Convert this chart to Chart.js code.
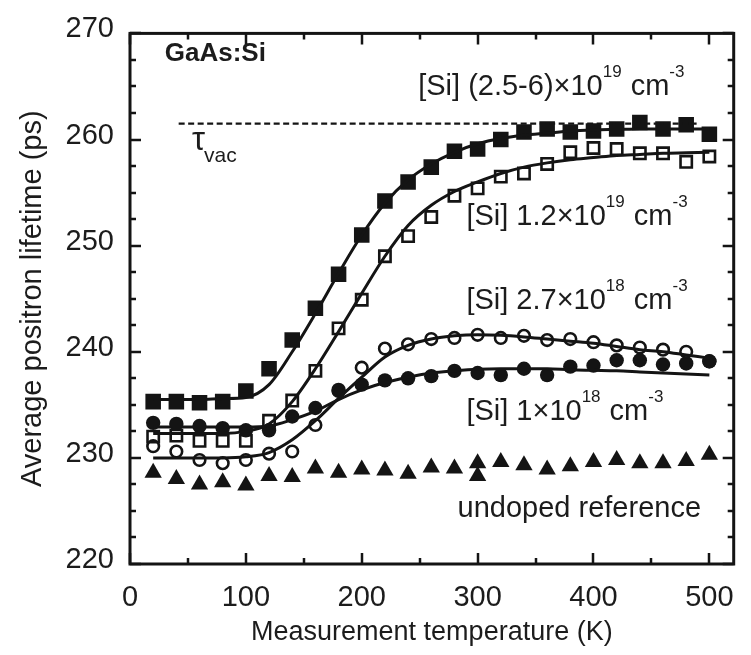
<!DOCTYPE html>
<html><head><meta charset="utf-8">
<script src="https://cdn.jsdelivr.net/npm/chart.js@4.4.0/dist/chart.umd.min.js"></script>
<style>html,body{margin:0;padding:0;background:#fff;}#wrap{width:751px;height:655px;}</style>
</head><body><div id="wrap"><canvas id="c" width="751" height="655"></canvas></div>
<script>
// ---------- data ----------
const temperatures = [20,40,60,80,100,120,140,160,180,200,220,240,260,280,300,320,340,360,380,400,420,440,460,480,500];
const siHigh   = [235.3,235.3,235.2,235.3,236.3,238.4,241.1,244.1,247.3,251.0,254.2,256.0,257.4,258.9,259.1,260.0,260.7,261.0,260.7,260.8,261.0,261.6,261.0,261.4,260.5];
const si12e19  = [232.0,232.1,231.6,231.6,231.6,233.5,235.4,238.2,242.2,244.9,249.0,250.9,252.7,254.7,255.4,256.5,256.8,257.7,258.8,259.2,259.1,258.7,258.7,257.9,258.4];
const si27e18  = [231.1,230.6,229.8,229.5,229.8,230.4,230.6,233.1,236.3,238.5,240.3,240.7,241.2,241.3,241.6,241.3,241.5,241.1,241.2,240.9,240.6,240.4,240.2,240.0,239.1];
const si1e18   = [233.3,233.2,233.0,232.8,232.6,232.6,233.9,234.7,236.4,236.9,237.3,237.5,237.7,238.2,238.0,237.8,238.4,237.8,238.6,238.7,239.2,239.2,238.8,238.9,239.1];
const undopedTemps = [20,40,60,80,100,120,140,160,180,200,220,240,260,280,300,300,320,340,360,380,400,420,440,460,480,500];
const undoped  = [228.6,228.0,227.5,227.7,227.4,228.3,228.2,229.0,228.6,228.9,228.8,228.5,229.1,229.0,229.5,228.3,229.6,229.3,228.9,229.2,229.6,229.8,229.5,229.5,229.7,230.3];
// fitted curves at the same temperatures
const fitHigh  = [235.5,235.5,235.5,235.6,235.7,236.9,240.0,243.6,247.4,251.0,254.0,256.2,257.7,258.8,259.6,260.1,260.4,260.6,260.8,260.9,260.95,261.0,261.0,261.0,261.0];
const fit12e19 = [232.3,232.3,232.3,232.3,232.5,233.2,235.3,238.4,241.9,245.5,249.0,251.9,253.8,255.1,256.0,256.8,257.4,257.8,258.1,258.3,258.5,258.6,258.7,258.75,258.8];
const fit27e18 = [230.0,230.0,230.0,230.0,230.1,230.5,231.7,233.5,235.6,237.6,239.5,240.6,241.2,241.5,241.6,241.55,241.4,241.2,241.0,240.8,240.5,240.2,240.0,239.7,239.4];
const fit1e18  = [232.9,232.9,232.9,232.9,232.9,233.0,233.6,234.4,235.5,236.4,237.1,237.6,238.0,238.2,238.35,238.4,238.4,238.4,238.3,238.25,238.2,238.1,238.0,237.9,237.8];
const tauVacT = [42, 489];
const tauVac  = [261.5, 261.5];
const xTicks = [0,100,200,300,400,500];
const yTicks = [220,230,240,250,260,270];

// ---------- styling ----------
const FONT = '"Liberation Sans", Arial, Helvetica, sans-serif';
const INK = '#141414';
const TXT = '#1c1c1c';
const pts = (xs, ys) => xs.map((x, i) => ({x: x, y: ys[i]}));

const annotations = [
  {T: 30,  v: 267.4, parts: [{t: 'GaAs:Si', bold: true}]},
  {T: 248.7, v: 264.2, parts: [{t: '[Si] (2.5-6)×10'}, {t: '19', sup: true}, {t: ' cm'}, {t: '-3', sup: true}]},
  {T: 290.3, v: 251.9, parts: [{t: '[Si] 1.2×10'}, {t: '19', sup: true}, {t: ' cm'}, {t: '-3', sup: true}]},
  {T: 290.3, v: 244.0, parts: [{t: '[Si] 2.7×10'}, {t: '18', sup: true}, {t: ' cm'}, {t: '-3', sup: true}]},
  {T: 290.3, v: 233.6, parts: [{t: '[Si] 1×10'}, {t: '18', sup: true}, {t: ' cm'}, {t: '-3', sup: true}]},
  {T: 282.7, v: 224.4, parts: [{t: 'undoped reference'}]},
  {T: 53.5,  v: 259.0, parts: [{t: 'τ', big: true}, {t: 'vac', sub: true}]}
];

const framePlugin = {
  id: 'frame',
  afterDatasetsDraw(chart) {
    const {ctx, chartArea: a, scales: {x, y}} = chart;
    ctx.save();
    ctx.strokeStyle = INK;
    ctx.lineWidth = 2.5;
    ctx.beginPath();
    for (let v = 0; v <= 521; v += 50) {
      const px = Math.round(x.getPixelForValue(v));
      const len = v % 100 === 0 ? 11 : 6;
      ctx.moveTo(px, a.bottom); ctx.lineTo(px, a.bottom - len);
      ctx.moveTo(px, a.top); ctx.lineTo(px, a.top + len);
    }
    for (let v = 220; v <= 270.01; v += 2.5) {
      const py = Math.round(y.getPixelForValue(v));
      const len = Math.abs(v % 10) < 0.01 ? 11 : 6;
      ctx.moveTo(a.left, py); ctx.lineTo(a.left + len, py);
      ctx.moveTo(a.right, py); ctx.lineTo(a.right - len, py);
    }
    ctx.stroke();
    ctx.lineWidth = 3;
    ctx.strokeRect(a.left, a.top, a.right - a.left, a.bottom - a.top);
    // annotations
    ctx.fillStyle = TXT;
    ctx.textBaseline = 'alphabetic';
    ctx.textAlign = 'left';
    annotations.forEach(an => {
      let px = x.getPixelForValue(an.T);
      const py = y.getPixelForValue(an.v);
      an.parts.forEach(p => {
        let f = '29px ' + FONT, dy = 0;
        if (p.bold) f = 'bold 26px ' + FONT;
        if (p.sup) { f = '17px ' + FONT; dy = -18; }
        if (p.big) f = '33px ' + FONT;
        if (p.sub) { f = '21px ' + FONT; dy = 12; px -= 1; }
        ctx.font = f;
        ctx.fillText(p.t, px, py + dy);
        px += ctx.measureText(p.t).width + (p.sup ? 1 : 0);
      });
    });
    ctx.restore();
  }
};

const lineDs = (ys, extra) => Object.assign({
  type: 'line', data: pts(temperatures, ys), borderColor: INK, borderWidth: 3,
  pointRadius: 0, fill: false, tension: 0.4, cubicInterpolationMode: 'monotone'
}, extra || {});

const chart = new Chart(document.getElementById('c'), {
  type: 'scatter',
  data: {
    datasets: [
      lineDs(fitHigh), lineDs(fit12e19), lineDs(fit27e18), lineDs(fit1e18),
      {type: 'line', data: pts(tauVacT, tauVac), borderColor: INK, borderWidth: 2.2, borderDash: [6, 3.5], pointRadius: 0, fill: false},
      {data: pts(temperatures, siHigh), pointStyle: 'rect', pointRadius: 11, backgroundColor: INK, borderColor: INK, borderWidth: 0},
      {data: pts(temperatures, si12e19), pointStyle: 'rect', pointRadius: 8, backgroundColor: 'rgba(0,0,0,0)', borderColor: INK, borderWidth: 2.6},
      {data: pts(temperatures, si27e18), pointStyle: 'circle', pointRadius: 5.8, backgroundColor: 'rgba(0,0,0,0)', borderColor: INK, borderWidth: 2.6},
      {data: pts(temperatures, si1e18), pointStyle: 'circle', pointRadius: 7.2, backgroundColor: INK, borderColor: INK, borderWidth: 0},
      {data: pts(undopedTemps, undoped), pointStyle: 'triangle', pointRadius: 10, backgroundColor: INK, borderColor: INK, borderWidth: 0}
    ]
  },
  options: {
    responsive: false, animation: false, devicePixelRatio: 1, events: [],
    layout: {padding: {top: 29, right: 6, bottom: 0, left: 0}},
    plugins: {legend: {display: false}, tooltip: {enabled: false}},
    scales: {
      x: {
        type: 'linear', min: 0, max: 521,
        afterBuildTicks: s => { s.ticks = xTicks.map(v => ({value: v})); },
        afterFit: s => { s.height = 91; },
        grid: {display: false, drawTicks: false}, border: {display: false},
        ticks: {padding: 17, color: TXT, font: {family: FONT, size: 29}, maxRotation: 0, autoSkip: false},
        title: {display: true, text: 'Measurement temperature (K)', color: TXT, font: {family: FONT, size: 27}, padding: {top: 0, bottom: 6}}
      },
      y: {
        type: 'linear', min: 220, max: 270,
        afterBuildTicks: s => { s.ticks = yTicks.map(v => ({value: v})); },
        afterFit: s => { s.width = 130; },
        grid: {display: false, drawTicks: false}, border: {display: false},
        ticks: {padding: 16, labelOffset: -4, color: TXT, font: {family: FONT, size: 29}, autoSkip: false},
        title: {display: true, text: 'Average positron lifetime (ps)', color: TXT, font: {family: FONT, size: 29}, padding: {top: 16, bottom: 0}}
      }
    }
  },
  plugins: [framePlugin]
});
</script></body></html>
